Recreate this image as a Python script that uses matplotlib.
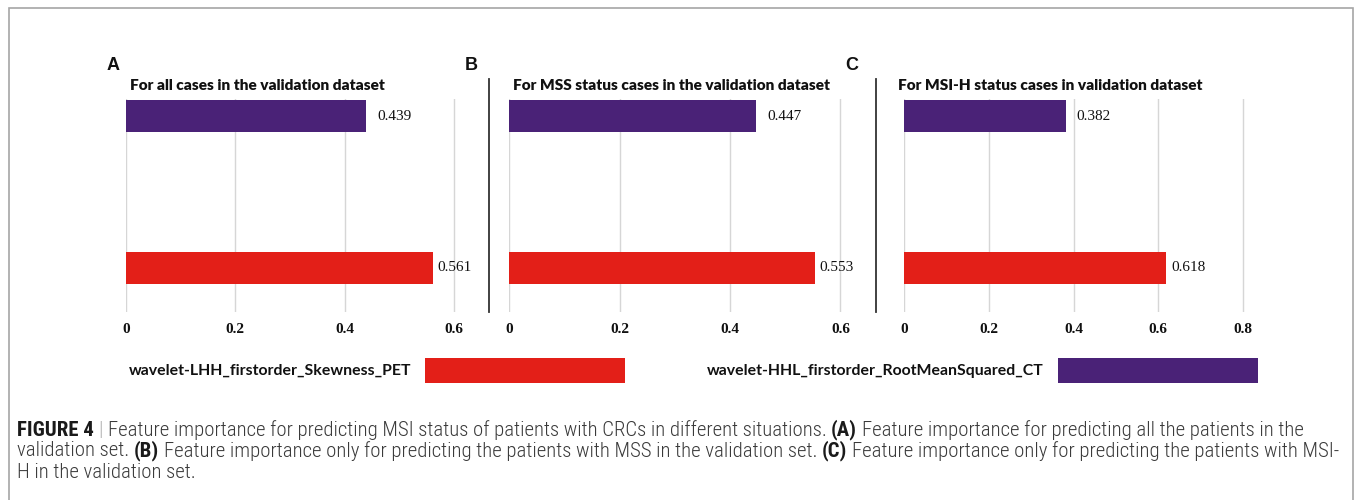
import matplotlib
matplotlib.use("Agg")
import matplotlib.pyplot as plt
from matplotlib.patches import Rectangle
from matplotlib.lines import Line2D

# ---------------- data ----------------
features = ["wavelet-HHL_firstorder_RootMeanSquared_CT",
            "wavelet-LHH_firstorder_Skewness_PET"]
panel_letters = ["A", "B", "C"]
panel_titles = ["For all cases in the validation dataset",
                "For MSS status cases in the validation dataset",
                "For MSI-H status cases in validation dataset"]
values_A = [0.439, 0.561]
values_B = [0.447, 0.553]
values_C = [0.382, 0.618]
ticks_A = [0, 0.2, 0.4, 0.6]
ticks_B = [0, 0.2, 0.4, 0.6]
ticks_C = [0, 0.2, 0.4, 0.6, 0.8]
tick_labels_A = ["0", "0.2", "0.4", "0.6"]
tick_labels_B = ["0", "0.2", "0.4", "0.6"]
tick_labels_C = ["0", "0.2", "0.4", "0.6", "0.8"]
value_labels_A = ["0.439", "0.561"]
value_labels_B = ["0.447", "0.553"]
value_labels_C = ["0.382", "0.618"]
bar_colors = ["#4A2277", "#E31F18"]
legend_order = [1, 0]

caption_lines = [
    [("FIGURE 4", True), (" | ", None), ("Feature importance for predicting MSI status of patients with CRCs in different situations. ", False),
     ("(A)", True), (" Feature importance for predicting all the patients in the", False)],
    [("validation set. ", False), ("(B)", True),
     (" Feature importance only for predicting the patients with MSS in the validation set. ", False),
     ("(C)", True), (" Feature importance only for predicting the patients with MSI-", False)],
    [("H in the validation set.", False)],
]
caption_line_ends = [1333, 1340]

# ---------------- figure ----------------
W, H = 1355, 500
DPI = 100
fig = plt.figure(figsize=(W / DPI, H / DPI), dpi=DPI)
fig.patch.set_facecolor("white")

def fx(px):
    return px / W

def fy(py):
    return 1 - py / H

TITLE_FONT = ["Lato", "DejaVu Sans"]
SERIF = ["Liberation Serif", "DejaVu Serif"]
NARROW = ["Roboto Condensed", "Archivo Narrow", "DejaVu Sans"]

# outer frame
fig.patches.append(Rectangle((fx(9), fy(520)), fx(1353) - fx(9), fy(8) - fy(520),
                             transform=fig.transFigure, fill=False,
                             edgecolor="#a6a6a6", linewidth=1.2, zorder=0))

panels = [
    dict(vals=values_A, ticks=ticks_A, tl=tick_labels_A, vl=value_labels_A,
         x0=126, scale=546.5, xmax=0.65, letter_x=107, title_x=130, sep=None),
    dict(vals=values_B, ticks=ticks_B, tl=tick_labels_B, vl=value_labels_B,
         x0=509, scale=552.5, xmax=0.65, letter_x=465, title_x=513, sep=489),
    dict(vals=values_C, ticks=ticks_C, tl=tick_labels_C, vl=value_labels_C,
         x0=904, scale=423.75, xmax=0.85, letter_x=845, title_x=898, sep=876),
]

ytop, ybot = 99, 312
ypos = [0, 1]
row_px = 151.5
bar_h = 32 / row_px
ylim_top = -(116 - ytop) / row_px
ylim_bot = 1 + (ybot - 267.5) / row_px
label_offsets = [11, 5]  # px offsets of value labels from bar ends

for i, p in enumerate(panels):
    right = p["x0"] + p["xmax"] * p["scale"]
    ax = fig.add_axes([fx(p["x0"]), fy(ybot), fx(right) - fx(p["x0"]), fy(ytop) - fy(ybot)])
    ax.barh(ypos, p["vals"], height=bar_h, color=bar_colors, edgecolor="none", zorder=3)
    ax.set_xlim(0, p["xmax"])
    ax.set_ylim(ylim_bot, ylim_top)
    ax.set_xticks(p["ticks"])
    ax.set_xticklabels(p["tl"], fontfamily=SERIF, fontweight="bold", fontsize=11, color="#111111")
    ax.tick_params(axis="x", length=0, pad=8)
    ax.set_yticks([])
    for s in ax.spines.values():
        s.set_visible(False)
    ax.grid(axis="x", color="#d6d6d6", linewidth=1.0, zorder=0)
    ax.set_axisbelow(True)
    for y, v, lab, off in zip(ypos, p["vals"], p["vl"], label_offsets):
        ax.annotate(lab, (v, y), xytext=(off * 72 / DPI, 0), textcoords="offset points",
                    ha="left", va="center", fontfamily=SERIF, fontsize=11, color="#111111")
    # panel letter
    fig.text(fx(p["letter_x"]), fy(65), panel_letters[i], fontfamily=["Liberation Sans", "DejaVu Sans"],
             fontweight="bold", fontsize=13, ha="left", va="center", color="#111111")
    # title
    fig.text(fx(p["title_x"]), fy(85), panel_titles[i], fontfamily=TITLE_FONT, fontweight="heavy",
             fontsize=11.1, ha="left", va="center", color="#111111")
    if p["sep"] is not None:
        fig.lines.append(Line2D([fx(p["sep"]), fx(p["sep"])], [fy(79), fy(312)],
                                transform=fig.transFigure, color="#333333", linewidth=1.3))

# ---------------- legend ----------------
legend_rects_x = [425, 1058]
for k, idx in enumerate(legend_order):
    rx = legend_rects_x[k]
    fig.patches.append(Rectangle((fx(rx), fy(383)), fx(rx + 200) - fx(rx), fy(358) - fy(383),
                                 transform=fig.transFigure, facecolor=bar_colors[idx],
                                 edgecolor="none"))
    fig.text(fx(rx - 14), fy(370.5), features[idx], fontfamily=TITLE_FONT, fontweight="bold",
             fontsize=11.4, ha="right", va="center", color="#111111")

# ---------------- caption ----------------
fig.canvas.draw()
renderer = fig.canvas.get_renderer()
REG_W, BOLD_W = "light", "bold"

def text_width(s, bold, size):
    t = fig.text(0, 0, s, fontfamily=NARROW, fontsize=size,
                 fontweight=BOLD_W if bold else REG_W)
    w = t.get_window_extent(renderer).width
    t.remove()
    return w

def space_width(size):
    return text_width("a a", False, size) - text_width("aa", False, size)

def line_width(segs, size):
    sp = space_width(size)
    w = 0
    for s, bold in segs:
        lead = len(s) - len(s.lstrip(" "))
        trail = len(s) - len(s.rstrip(" "))
        w += (lead + trail) * sp + text_width(s.strip(" "), bool(bold), size)
    return w

# fit the caption lines to the frame width
base = 10.0
cap_size = min(base * (end - 17) / line_width(segs, base)
               for segs, end in zip(caption_lines[:2], caption_line_ends))
space_w = space_width(cap_size)

line_y = [430, 451, 472]
for ly, segs in zip(line_y, caption_lines):
    x = 17
    for s, bold in segs:
        lead = len(s) - len(s.lstrip(" "))
        trail = len(s) - len(s.rstrip(" "))
        core = s.strip(" ")
        x += lead * space_w
        color = "#b0b0b0" if bold is None else ("#1a1a1a" if bold else "#3a3a3a")
        t = fig.text(fx(x), fy(ly), core, fontfamily=NARROW, fontsize=cap_size,
                     fontweight=BOLD_W if bold else REG_W, ha="left", va="center", color=color)
        x += t.get_window_extent(renderer).width
        x += trail * space_w

fig.savefig("out.png", dpi=DPI, facecolor="white")
